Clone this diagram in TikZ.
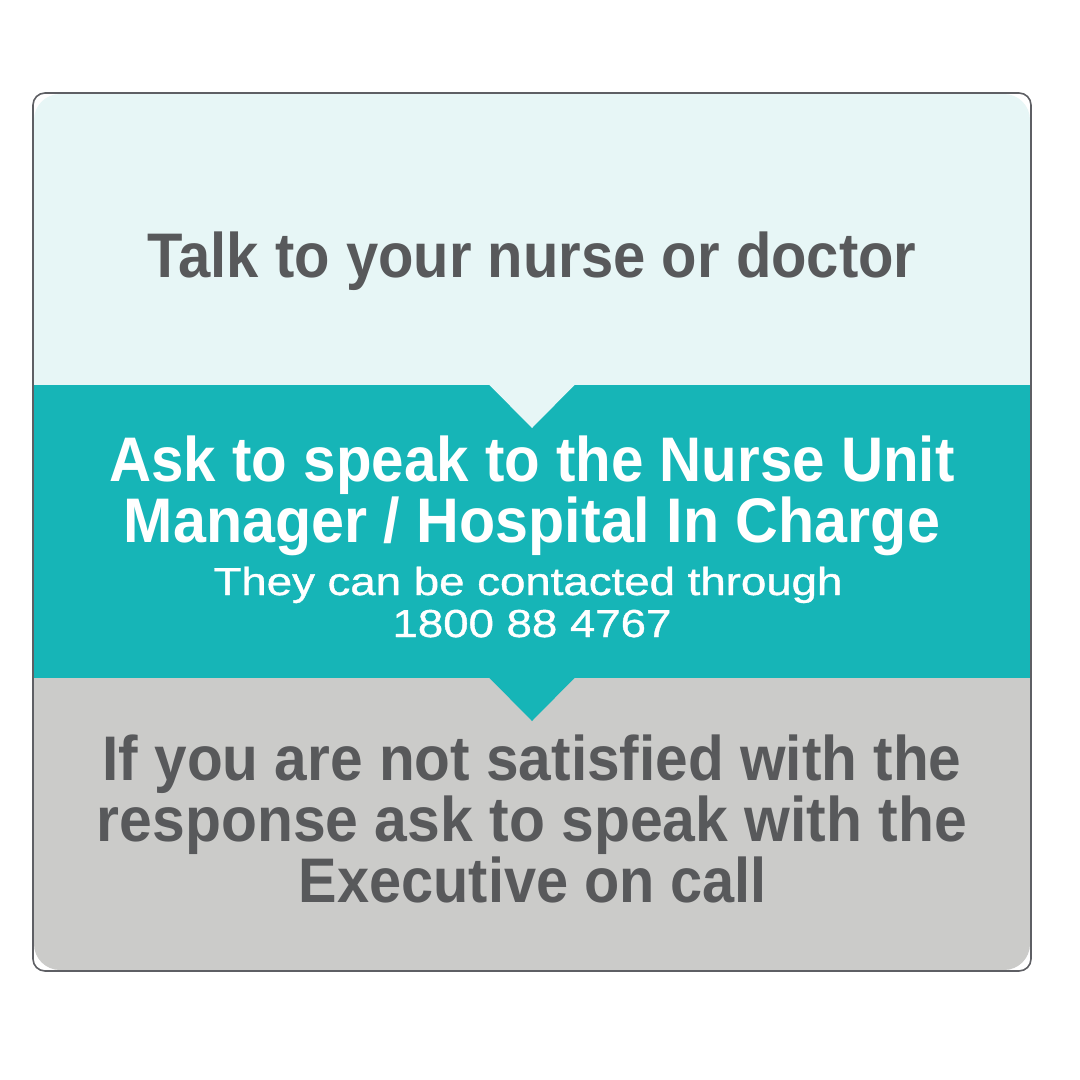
\documentclass[tikz,border=0pt]{standalone}
\usepackage{fontspec}
\usepackage{graphicx}
\setmainfont{Liberation Sans}
\newfontfamily\medfont[FakeBold=0.9]{Liberation Sans}
\definecolor{lightband}{HTML}{E7F6F6}
\definecolor{tealband}{HTML}{16B5B7}
\definecolor{grayband}{HTML}{CBCBC9}
\definecolor{txtgray}{HTML}{58595B}
\definecolor{framegray}{HTML}{5E5F64}
\newcommand{\fitw}[2]{\resizebox{#1pt}{\height}{#2}}
\tikzset{
  bigline/.style={anchor=base, inner sep=0pt, font=\fontsize{63}{63}\selectfont\bfseries},
  smallline/.style={anchor=base, inner sep=0pt, text=white, font=\fontsize{39}{39}\medfont},
}
\begin{document}
\begin{tikzpicture}[x=1pt,y=-1pt]
\useasboundingbox (0,0) rectangle (1080,1080);
\fill[white] (0,0) rectangle (1080,1080);
\begin{scope}
\clip[rounded corners=26pt] (34,94) rectangle (1030,970);
\fill[lightband] (0,0) rectangle (1080,385);
\fill[tealband] (0,385) rectangle (1080,678);
\fill[grayband] (0,678) rectangle (1080,1080);
\fill[lightband] (489,384.5) -- (575,384.5) -- (532,428) -- cycle;
\fill[tealband] (489,677.5) -- (575,677.5) -- (532,721) -- cycle;
\end{scope}
\draw[framegray, line width=1.6pt, rounded corners=12pt] (33,93) rectangle (1031,971);

\node[bigline, text=txtgray] (talk) at (532,277) {\fitw{769}{Talk to your nurse or doctor}};
\node[bigline, text=white] (ask1) at (532,481) {\fitw{845}{Ask to speak to the Nurse Unit}};
\node[bigline, text=white] (ask2) at (532,542) {\fitw{816}{Manager / Hospital In Charge}};
\node[smallline] (contact1) at (528,595) {\fitw{629}{They can be contacted through}};
\node[smallline] (contact2) at (532,637) {\fitw{279}{1800 88 4767}};
\node[bigline, text=txtgray] (esc1) at (532,780) {\fitw{859}{If you are not satisfied with the}};
\node[bigline, text=txtgray] (esc2) at (532,841) {\fitw{870}{response ask to speak with the}};
\node[bigline, text=txtgray] (esc3) at (533,902) {\fitw{468}{Executive on call}};
\end{tikzpicture}
\end{document}
